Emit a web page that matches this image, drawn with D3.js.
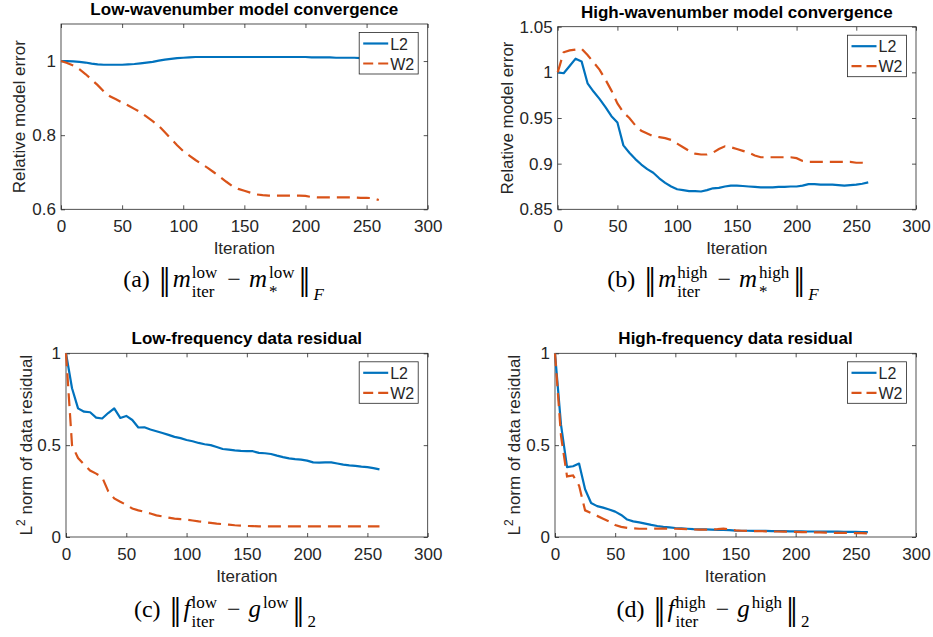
<!DOCTYPE html>
<html><head><meta charset="utf-8">
<script src="https://cdn.jsdelivr.net/npm/d3@7"></script>
<style>body{margin:0;background:#fff}svg{display:block}</style>
</head><body><svg id="c" width="933" height="637"></svg>
<script>
// ---------------- DATA ----------------
const iterations = [0,5,10,15,20,25,30,35,40,45,50,55,60,65,70,75,80,85,90,95,100,105,110,115,120,125,130,135,140,145,150,155,160,165,170,175,180,185,190,195,200,205,210,215,220,225,230,235,240,245,250,255,260];
const xTicks = [0,50,100,150,200,250,300];
const seriesNames = ["L2","W2"];

const lowModelL2 = [1.000,1.000,0.999,0.998,0.996,0.993,0.991,0.990,0.990,0.990,0.990,0.991,0.992,0.994,0.996,0.998,1.001,1.004,1.006,1.008,1.009,1.010,1.011,1.011,1.011,1.011,1.011,1.011,1.011,1.011,1.011,1.011,1.011,1.011,1.011,1.011,1.011,1.011,1.011,1.011,1.011,1.010,1.010,1.010,1.010,1.009,1.009,1.009,1.009,1.008,1.008,1.008,1.008];
const lowModelW2 = [1.000,0.995,0.988,0.978,0.965,0.950,0.935,0.918,0.905,0.897,0.888,0.880,0.871,0.862,0.850,0.838,0.825,0.808,0.790,0.773,0.757,0.745,0.733,0.722,0.712,0.700,0.688,0.675,0.663,0.655,0.650,0.645,0.640,0.638,0.637,0.637,0.637,0.637,0.637,0.637,0.636,0.633,0.632,0.632,0.632,0.632,0.632,0.632,0.632,0.631,0.631,0.630,0.625];

const highModelL2 = [1.000,0.999,1.007,1.015,1.012,0.988,0.979,0.971,0.962,0.952,0.945,0.920,0.912,0.905,0.899,0.894,0.890,0.884,0.879,0.875,0.872,0.871,0.870,0.870,0.8695,0.871,0.873,0.8735,0.875,0.876,0.876,0.8755,0.875,0.8745,0.874,0.874,0.874,0.8745,0.8745,0.875,0.875,0.876,0.8775,0.8775,0.877,0.877,0.877,0.8765,0.876,0.8765,0.877,0.878,0.8795];
const highModelW2 = [1.000,1.022,1.024,1.025,1.026,1.019,1.011,1.003,0.992,0.980,0.966,0.956,0.950,0.942,0.936,0.933,0.930,0.929,0.928,0.926,0.922,0.918,0.914,0.911,0.910,0.910,0.912,0.916,0.919,0.918,0.916,0.914,0.912,0.909,0.907,0.907,0.907,0.907,0.907,0.907,0.906,0.903,0.902,0.902,0.902,0.902,0.902,0.902,0.902,0.902,0.901,0.901,0.900];

const lowDataL2 = [1.000,0.810,0.700,0.682,0.679,0.650,0.645,0.675,0.700,0.648,0.659,0.637,0.596,0.597,0.585,0.576,0.566,0.556,0.545,0.538,0.528,0.521,0.512,0.505,0.500,0.490,0.479,0.476,0.472,0.469,0.468,0.467,0.458,0.456,0.452,0.443,0.435,0.428,0.424,0.421,0.416,0.406,0.405,0.406,0.406,0.400,0.394,0.390,0.387,0.383,0.380,0.375,0.368];
const lowDataW2 = [1.000,0.500,0.430,0.395,0.362,0.345,0.325,0.250,0.210,0.192,0.175,0.155,0.145,0.137,0.128,0.118,0.112,0.105,0.100,0.097,0.094,0.090,0.085,0.081,0.077,0.073,0.070,0.067,0.064,0.062,0.060,0.059,0.058,0.058,0.058,0.058,0.058,0.058,0.058,0.058,0.058,0.058,0.058,0.058,0.058,0.058,0.058,0.058,0.058,0.058,0.058,0.058,0.058];

const highDataL2 = [1.000,0.610,0.380,0.385,0.400,0.260,0.185,0.168,0.160,0.150,0.138,0.120,0.095,0.085,0.080,0.073,0.066,0.060,0.055,0.052,0.049,0.047,0.045,0.043,0.042,0.041,0.040,0.039,0.038,0.037,0.035,0.034,0.034,0.033,0.033,0.033,0.032,0.032,0.032,0.031,0.031,0.031,0.030,0.030,0.030,0.029,0.029,0.029,0.028,0.028,0.028,0.027,0.027];
const highDataW2 = [1.000,0.550,0.330,0.335,0.280,0.145,0.130,0.115,0.100,0.085,0.065,0.055,0.050,0.047,0.045,0.045,0.045,0.046,0.046,0.046,0.045,0.044,0.043,0.041,0.040,0.040,0.041,0.043,0.046,0.040,0.036,0.034,0.033,0.032,0.032,0.031,0.030,0.030,0.029,0.029,0.028,0.027,0.026,0.025,0.025,0.024,0.023,0.023,0.022,0.022,0.021,0.021,0.020];

const yTicksLowModel = [0.6,0.8,1];
const yTicksHighModel = [0.85,0.9,0.95,1,1.05];
const yTicksData = [0,0.5,1];

const titles = ["Low-wavenumber model convergence","High-wavenumber model convergence","Low-frequency data residual","High-frequency data residual"];
const xLabel = "Iteration";

// ---------------- STYLE / LAYOUT ----------------
const colorL2 = "#0072BD", colorW2 = "#D95319";
const sans = '"Liberation Sans", Arial, Helvetica, sans-serif';
const serif = '"Liberation Serif", "Times New Roman", serif';
const textCol = "#262626";
const lineW = 2.2, dash = "13,7";
const svg = d3.select("#c");

const panels = [
  {title:titles[0], yLabel:"model", yDomain:[0.6,1.1], yTicks:yTicksLowModel, L2:lowModelL2, W2:lowModelW2,
   left:61, right:427.7, top:24, bottom:209.3, yLabOff:36,
   cap:{cx:223.5, base:287, letter:"(a)", a:"m", b:"m", sup:"low", subA:"iter", subB:"*", norm:"F", normItalic:true}},
  {title:titles[1], yLabel:"model", yDomain:[0.85,1.05], yTicks:yTicksHighModel, L2:highModelL2, W2:highModelW2,
   left:557.7, right:916, top:26.7, bottom:209.3, yLabOff:44.7,
   cap:{cx:713, base:287, letter:"(b)", a:"m", b:"m", sup:"high", subA:"iter", subB:"*", norm:"F", normItalic:true}},
  {title:titles[2], yLabel:"data", yDomain:[0,1], yTicks:yTicksData, L2:lowDataL2, W2:lowDataW2,
   left:66, right:427.7, top:353.3, bottom:537, yLabOff:34,
   cap:{cx:225, base:617, letter:"(c)", a:"f", b:"g", sup:"low", subA:"iter", subB:null, norm:"2", normItalic:false}},
  {title:titles[3], yLabel:"data", yDomain:[0,1], yTicks:yTicksData, L2:highDataL2, W2:highDataW2,
   left:555, right:916, top:353.3, bottom:537, yLabOff:35,
   cap:{cx:713, base:617, letter:"(d)", a:"f", b:"g", sup:"high", subA:"iter", subB:null, norm:"2", normItalic:false}}
];

const fmt = d3.format("~g");

function styleAxis(g){
  g.attr("font-size",17).attr("font-family",sans).attr("color",textCol);
  g.select(".domain").remove();
  g.selectAll(".tick line").attr("stroke-width",0.8);
}

function drawPanel(p){
  const x = d3.scaleLinear().domain([0,300]).range([p.left,p.right]);
  const y = d3.scaleLinear().domain(p.yDomain).range([p.bottom,p.top]);
  const g = svg.append("g");

  g.append("g").attr("transform",`translate(0,${p.bottom})`)
    .call(d3.axisBottom(x).tickValues(xTicks).tickFormat(fmt).tickSize(-4).tickSizeOuter(0).tickPadding(11)).call(styleAxis);
  g.append("g").attr("transform",`translate(0,${p.top})`)
    .call(d3.axisTop(x).tickValues(xTicks).tickFormat("").tickSize(-4).tickSizeOuter(0)).call(styleAxis);
  g.append("g").attr("transform",`translate(${p.left},0)`)
    .call(d3.axisLeft(y).tickValues(p.yTicks).tickFormat(fmt).tickSize(-4).tickSizeOuter(0).tickPadding(5)).call(styleAxis);
  g.append("g").attr("transform",`translate(${p.right},0)`)
    .call(d3.axisRight(y).tickValues(p.yTicks).tickFormat("").tickSize(-4).tickSizeOuter(0)).call(styleAxis);

  g.append("rect").attr("x",p.left).attr("y",p.top).attr("width",p.right-p.left).attr("height",p.bottom-p.top)
    .attr("fill","none").attr("stroke",textCol).attr("stroke-width",0.8);

  const line = d3.line().x((d,i)=>x(iterations[i])).y(d=>y(d));
  g.append("path").datum(p.L2).attr("d",line).attr("fill","none").attr("stroke",colorL2).attr("stroke-width",lineW).attr("stroke-linejoin","round");
  g.append("path").datum(p.W2).attr("d",line).attr("fill","none").attr("stroke",colorW2).attr("stroke-width",lineW).attr("stroke-dasharray",dash);

  // title
  g.append("text").attr("x",(p.left+p.right)/2).attr("y",p.top-9).attr("text-anchor","middle")
    .attr("font-family",sans).attr("font-size",17).attr("font-weight","bold").attr("fill","#000").text(p.title);
  // x label
  g.append("text").attr("x",(p.left+p.right)/2).attr("y",p.bottom+45).attr("text-anchor","middle")
    .attr("font-family",sans).attr("font-size",17).attr("fill",textCol).text(xLabel);
  // y label
  const yl = g.append("text").attr("transform",`translate(${p.left-p.yLabOff},${(p.top+p.bottom)/2}) rotate(-90)`)
    .attr("text-anchor","middle").attr("font-family",sans).attr("font-size",17).attr("fill",textCol);
  if(p.yLabel==="model"){ yl.text("Relative model error"); }
  else {
    yl.append("tspan").text("L");
    yl.append("tspan").attr("font-size",12).attr("dy",-7).text("2");
    yl.append("tspan").attr("dy",7).text(" norm of data residual");
  }

  // legend
  const lx1 = p.right-9.5, lx0 = lx1-59, ly0 = p.top+8.5;
  const lg = g.append("g");
  lg.append("rect").attr("x",lx0).attr("y",ly0).attr("width",59).attr("height",41.5)
    .attr("fill","#fff").attr("stroke",textCol).attr("stroke-width",0.8);
  seriesNames.forEach((name,i)=>{
    const yy = ly0 + 11 + i*20;
    lg.append("line").attr("x1",lx0+4).attr("x2",lx0+29).attr("y1",yy).attr("y2",yy)
      .attr("stroke", i===0?colorL2:colorW2).attr("stroke-width",lineW).attr("stroke-dasharray", i===0?null:"10,5");
    lg.append("text").attr("x",lx0+31).attr("y",yy+6).attr("font-family",sans).attr("font-size",16).attr("fill",textCol).text(name);
  });

  drawCaption(p.cap);
}

function drawCaption(c){
  const g = svg.append("g");
  let cx = 0;
  const B = 0;
  function txt(str, o){
    const t = g.append("text").attr("x",o.x!==undefined?o.x:cx).attr("y",B+(o.dy||0))
      .attr("font-family",o.family||serif).attr("font-size",o.size||24)
      .attr("font-style",o.italic?"italic":"normal").attr("fill","#000").text(str);
    return t;
  }
  function w(t){ return t.node().getComputedTextLength(); }
  function bar(){
    const t = g.append("text").attr("transform",`translate(${cx},${B+2.5}) scale(1,1.25)`)
      .attr("font-family",'"DejaVu Serif", serif').attr("font-size",24).attr("fill","#000").text("\u2016");
    cx += w(t);
  }
  let t = txt(c.letter,{}); cx += w(t) + 9;
  bar(); cx += 2;
  t = txt(c.a,{italic:true,size:25}); cx += w(t) + 1;
  let s1 = txt(c.sup,{size:17,dy:-9}); let s2 = txt(c.subA,{size:17,dy:10});
  cx += Math.max(w(s1),w(s2)) + 10;
  t = txt("\u2212",{}); cx += w(t) + 8;
  t = txt(c.b,{italic:true,size:25}); cx += w(t) + 2;
  s1 = txt(c.sup,{size:17,dy:-9});
  let ww = w(s1);
  if(c.subB){ s2 = txt(c.subB,{size:17,dy:10}); ww = Math.max(ww,w(s2)); }
  cx += ww + 4;
  bar(); cx += 3;
  t = txt(c.norm,{size:17,dy:c.normItalic?13:10,italic:c.normItalic}); cx += w(t);
  g.attr("transform",`translate(${c.cx-cx/2},${c.base})`);
}

panels.forEach(drawPanel);
</script>
</body></html>
